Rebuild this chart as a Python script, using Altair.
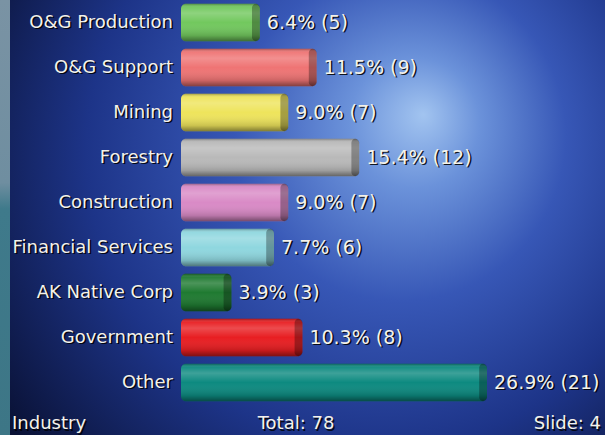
import altair as alt
import pandas as pd

categories = ["O&G Production", "O&G Support", "Mining", "Forestry", "Construction",
              "Financial Services", "AK Native Corp", "Government", "Other"]
counts = [5, 9, 7, 12, 7, 6, 3, 8, 21]
percents = ["6.4%", "11.5%", "9.0%", "15.4%", "9.0%", "7.7%", "3.9%", "10.3%", "26.9%"]
colors = ["#72c85e", "#ef7474", "#eee45c", "#b9b9b9", "#d98ac6",
          "#8fd7df", "#1f7a31", "#e81e22", "#0d8a80"]
total = 78
slide = 4

df = pd.DataFrame({
    "cat": categories,
    "n": counts,
    "label": [f"{p} ({c})" for p, c in zip(percents, counts)],
    "color": colors,
})

FONT = "DejaVu Sans"
W, H = 605, 435

yenc = alt.Y("cat:N", sort=categories, axis=None,
             scale=alt.Scale(range=[0, 405], paddingInner=0.17, paddingOuter=0.085))
# bars start a little left of the zero point (cylinder end)
xscale = alt.Scale(domain=[-0.55, 21], range=[181, 487], zero=False, nice=False)

one = pd.DataFrame({"k": [0]})

bg = alt.Chart(one).mark_rect(
    fill=alt.Gradient(
        gradient="radial",
        x1=0.70, y1=0.33, r1=0.0,
        x2=0.60, y2=0.42, r2=0.72,
        stops=[
            alt.GradientStop(offset=0.0, color="#a2c4f0"),
            alt.GradientStop(offset=0.15, color="#6b92da"),
            alt.GradientStop(offset=0.38, color="#3757b6"),
            alt.GradientStop(offset=0.68, color="#1d3488"),
            alt.GradientStop(offset=1.0, color="#0a1236"),
        ],
    )
).encode(x=alt.value(0), x2=alt.value(W), y=alt.value(0), y2=alt.value(H))

strip = alt.Chart(one).mark_rect(
    fill=alt.Gradient(
        gradient="linear", x1=0, y1=0, x2=0, y2=1,
        stops=[
            alt.GradientStop(offset=0.0, color="#7a93a4"),
            alt.GradientStop(offset=0.42, color="#6f8ea0"),
            alt.GradientStop(offset=0.48, color="#3f7a8b"),
            alt.GradientStop(offset=1.0, color="#3d7686"),
        ],
    )
).encode(x=alt.value(0), x2=alt.value(10), y=alt.value(0), y2=alt.value(H))

base = alt.Chart(df).transform_calculate(start="-0.55", cap="datum.n - 0.55")

bars = base.mark_bar(cornerRadius=5).encode(
    x=alt.X("n:Q", scale=xscale, axis=None),
    x2="start:Q",
    y=yenc,
    color=alt.Color("color:N", scale=None),
)

shade = base.mark_bar(
    cornerRadius=5,
    fill=alt.Gradient(
        gradient="linear", x1=0, y1=0, x2=0, y2=1,
        stops=[
            alt.GradientStop(offset=0.0, color="rgba(0,0,0,0.30)"),
            alt.GradientStop(offset=0.10, color="rgba(255,255,255,0.05)"),
            alt.GradientStop(offset=0.25, color="rgba(255,255,255,0.20)"),
            alt.GradientStop(offset=0.5, color="rgba(255,255,255,0.0)"),
            alt.GradientStop(offset=0.85, color="rgba(0,0,0,0.15)"),
            alt.GradientStop(offset=1.0, color="rgba(0,0,0,0.45)"),
        ],
    ),
).encode(
    x=alt.X("n:Q", scale=xscale, axis=None),
    x2="start:Q",
    y=yenc,
)

caps = base.mark_bar(
    cornerRadius=6, color="black", opacity=0.3,
).encode(
    x=alt.X("cap:Q", scale=xscale, axis=None),
    x2="n:Q",
    y=yenc,
)

cat_shadow = base.mark_text(align="right", baseline="middle", font=FONT, fontSize=18,
                            color="#000000", opacity=0.85, dx=1.5, dy=1.5).encode(
    x=alt.value(173), y=yenc, text="cat:N")
cat_text = base.mark_text(align="right", baseline="middle", font=FONT, fontSize=18,
                          color="#f4f2ea").encode(
    x=alt.value(173), y=yenc, text="cat:N")

val_shadow = base.mark_text(align="left", baseline="middle", font=FONT, fontSize=19,
                            color="#000000", opacity=0.85, dx=8.5, dy=1.5).encode(
    x=alt.X("n:Q", scale=xscale, axis=None), y=yenc, text="label:N")
val_text = base.mark_text(align="left", baseline="middle", font=FONT, fontSize=19,
                          color="#f4f2ea", dx=7).encode(
    x=alt.X("n:Q", scale=xscale, axis=None), y=yenc, text="label:N")

footer_text = ["Industry", f"Total: {total}", f"Slide: {slide}"]


def foot(txt, align, xpix):
    d = pd.DataFrame({"t": [txt]})
    sh = alt.Chart(d).mark_text(align=align, baseline="alphabetic", font=FONT, fontSize=18,
                                color="#000000", opacity=0.8, dx=1.5, dy=1.5).encode(
        x=alt.value(xpix), y=alt.value(429), text="t:N")
    tx = alt.Chart(d).mark_text(align=align, baseline="alphabetic", font=FONT, fontSize=18,
                                color="#f4f2ea").encode(
        x=alt.value(xpix), y=alt.value(429), text="t:N")
    return [sh, tx]


footers = foot(footer_text[0], "left", 12) + foot(footer_text[1], "center", 296) + \
    foot(footer_text[2], "right", 601)

chart = alt.layer(
    bg, strip, bars, shade, caps, cat_shadow, cat_text, val_shadow, val_text, *footers
).properties(
    width=W, height=H, padding=0, autosize=alt.AutoSizeParams(type="none"),
    background="#0a1336",
).configure_view(strokeWidth=0)

chart.save("out.html", embed_options={"renderer": "svg", "actions": False})
